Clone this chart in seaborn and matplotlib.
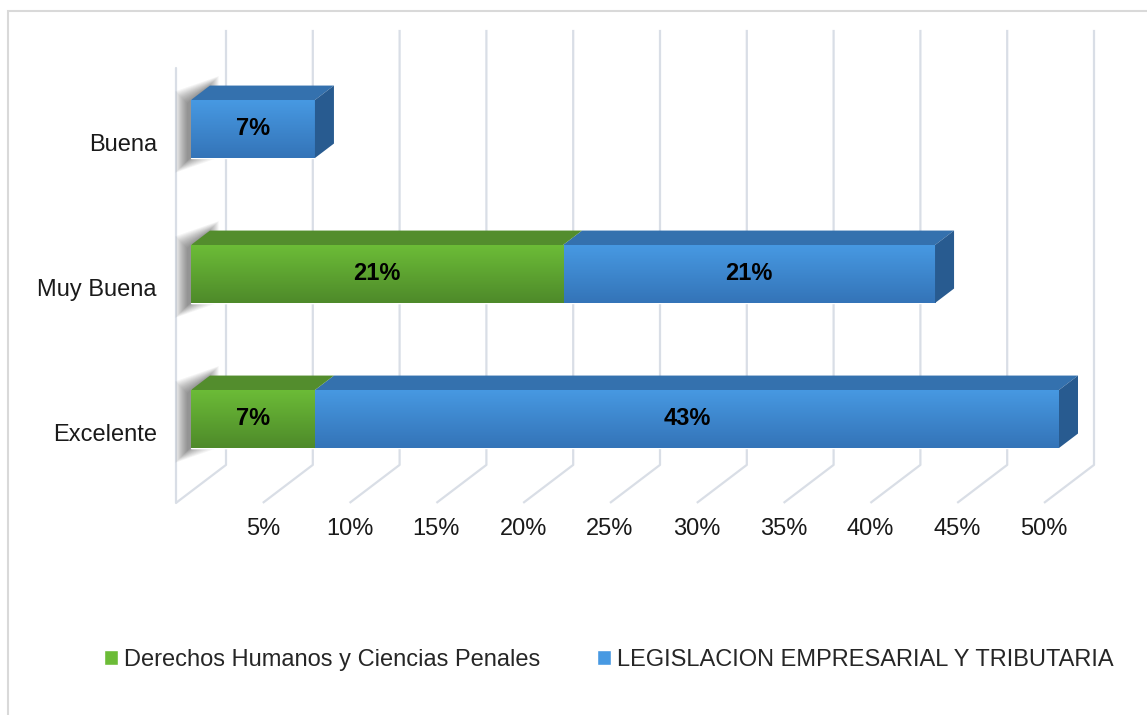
import numpy as np
import pandas as pd
import matplotlib
matplotlib.use('Agg')
import matplotlib.pyplot as plt
import seaborn as sns
from matplotlib.patches import Polygon, Patch, Rectangle
from matplotlib.colors import LinearSegmentedColormap
from matplotlib.transforms import ScaledTranslation

# data (shares of 14 answers, shown rounded)
categories = ['Buena', 'Muy Buena', 'Excelente']
derechos = [0.0, 21.43, 7.14]
legislacion = [7.14, 21.43, 42.86]
x_ticks = [5, 10, 15, 20, 25, 30, 35, 40, 45, 50]
x_tick_labels = ['5%', '10%', '15%', '20%', '25%', '30%', '35%', '40%', '45%', '50%']
series_names = ['Derechos Humanos y Ciencias Penales',
                'LEGISLACION EMPRESARIAL Y TRIBUTARIA']

GREEN_TOP, GREEN_BOT, GREEN_ROOF = '#6CBC37', '#4E8A2A', '#538D2D'
BLUE_TOP, BLUE_BOT, BLUE_ROOF, BLUE_SIDE = '#4799E2', '#3474B8', '#3471AE', '#285B90'
GRID = '#D9DEE6'
DEPTH_DX, DEPTH_DY = 50, 38      # px for full depth (right, up)
FRONT, BACK = 0.3, 0.68          # depth of bar faces

sns.set_style('white')
plt.rcParams['font.family'] = ['Liberation Sans', 'DejaVu Sans']

df = pd.DataFrame({'cat': categories, 'der': derechos, 'leg': legislacion})
df['total'] = df['der'] + df['leg']

fig = plt.figure(figsize=(11.47, 7.15), dpi=100)
ax = fig.add_axes([191 / 1147, 1 - 491.5 / 715, 868 / 1147, 435 / 715])

sns.barplot(data=df, x='total', y='cat', orient='h', color=BLUE_TOP, width=0.4,
            saturation=1, ax=ax, zorder=3)
sns.barplot(data=df, x='der', y='cat', orient='h', color=GREEN_TOP, width=0.4,
            saturation=1, ax=ax, zorder=3)
n = len(categories)
blue_bars = ax.patches[:n]
green_bars = ax.patches[n:2 * n]

# vertical gradient on the front faces
grad = np.linspace(0, 1, 64).reshape(-1, 1)
for bars, c0, c1 in [(blue_bars, BLUE_TOP, BLUE_BOT), (green_bars, GREEN_TOP, GREEN_BOT)]:
    cmap = LinearSegmentedColormap.from_list('g', [c0, c1])
    for p in bars:
        if p.get_width() <= 0:
            continue
        x0, y0, w, h = p.get_x(), p.get_y(), p.get_width(), p.get_height()
        im = ax.imshow(grad, cmap=cmap, extent=(x0, x0 + w, y0 + h, y0),
                       aspect='auto', zorder=3.1, interpolation='bilinear')
        im.set_clip_path(p)

ax.set_xlim(0, 50)
ax.set_ylim(2.5, -0.5)
for s in ax.spines.values():
    s.set_visible(False)
ax.set_xlabel('')
ax.set_ylabel('')


def to_disp(x, y, d):
    px, py = ax.transData.transform((x, y))
    return px + (d - FRONT) * DEPTH_DX, py + (d - FRONT) * DEPTH_DY


def to_data(pts):
    return ax.transData.inverted().transform(np.array(pts))


def face(pts, color, z):
    poly = Polygon(to_data([to_disp(*p) for p in pts]), closed=True, facecolor=color,
                   edgecolor='none', zorder=z, clip_on=False)
    ax.add_patch(poly)


# back wall, floor and left wall lines
for v in range(0, 51, 5):
    top, bot, front = to_data([to_disp(v, -0.5, 1), to_disp(v, 2.5, 1), to_disp(v, 2.5, 0)])
    ax.plot([top[0], bot[0], front[0]], [top[1], bot[1], front[1]], color=GRID,
            lw=1.6, zorder=1, clip_on=False, solid_capstyle='butt')
wl = to_data([to_disp(0, -0.5, 0), to_disp(0, 2.5, 0)])
ax.plot(wl[:, 0], wl[:, 1], color=GRID, lw=1.6, zorder=1, clip_on=False)

# soft shadow of each bar on the left wall
for p in blue_bars:
    y0, y1 = p.get_y(), p.get_y() + p.get_height()
    a, b = to_disp(0, y0, 0.22), to_disp(0, y1, 0.22)
    c, d = to_disp(0, y1, 0.62), to_disp(0, y0, 0.62)
    steps = 14
    for k in range(steps):
        e = 0.9 * (steps - 1 - k)
        pts = [(a[0] - e, a[1] + e), (b[0] - e, b[1] - e), (c[0] + e, c[1] - e), (d[0] + e, d[1] + e)]
        ax.add_patch(Polygon(to_data(pts), closed=True, facecolor='#3c3c3c', alpha=0.05,
                             edgecolor='none', zorder=2, clip_on=False))

# top and side faces
for p, g, der in zip(blue_bars, green_bars, derechos):
    x0, x1 = der, p.get_x() + p.get_width()
    y0, y1 = p.get_y(), p.get_y() + p.get_height()
    face([(x0, y0, FRONT), (x1, y0, FRONT), (x1, y0, BACK), (x0, y0, BACK)], BLUE_ROOF, 3.2)
    face([(x1, y0, FRONT), (x1, y1, FRONT), (x1, y1, BACK), (x1, y0, BACK)], BLUE_SIDE, 3.2)
    if g.get_width() > 0:
        gx1 = g.get_x() + g.get_width()
        face([(0, y0, FRONT), (gx1, y0, FRONT), (gx1, y0, BACK), (0, y0, BACK)], GREEN_ROOF, 3.3)

# value labels
for i, (dv, lv) in enumerate(zip(derechos, legislacion)):
    if dv > 0:
        ax.text(dv / 2, i, f'{dv:.0f}%', ha='center', va='center', fontsize=17,
                fontweight='bold', color='black', zorder=5)
    ax.text(dv + lv / 2, i, f'{lv:.0f}%', ha='center', va='center', fontsize=17,
            fontweight='bold', color='black', zorder=5)

# ticks
ax.set_xticks(x_ticks, x_tick_labels)
ax.tick_params(axis='x', length=0, pad=19, labelsize=17, labelcolor='#1a1a1a')
ax.tick_params(axis='y', length=0, pad=24.5, labelsize=17, labelcolor='#1a1a1a')
for lab in ax.get_xticklabels():
    lab.set_transform(lab.get_transform() + ScaledTranslation(-0.15, 0, fig.dpi_scale_trans))
for lab in ax.get_yticklabels():
    lab.set_transform(lab.get_transform() + ScaledTranslation(0, -0.14, fig.dpi_scale_trans))

handles = [Patch(facecolor=GREEN_TOP, label=series_names[0]),
           Patch(facecolor=BLUE_TOP, label=series_names[1])]
fig.legend(handles=handles, loc='center', bbox_to_anchor=(0.531, 1 - 660 / 715), ncol=2,
           frameon=False, fontsize=17, handlelength=0.6, handleheight=0.6,
           handletextpad=0.25, columnspacing=2.4)

# chart area border (left and top edges visible)
fig.patches.append(Rectangle((8 / 1147, -0.1), 1.2, 704 / 715 + 0.1, transform=fig.transFigure,
                             fill=False, edgecolor='#D9D9D9', lw=1.5))

fig.savefig('out.png', dpi=100)
